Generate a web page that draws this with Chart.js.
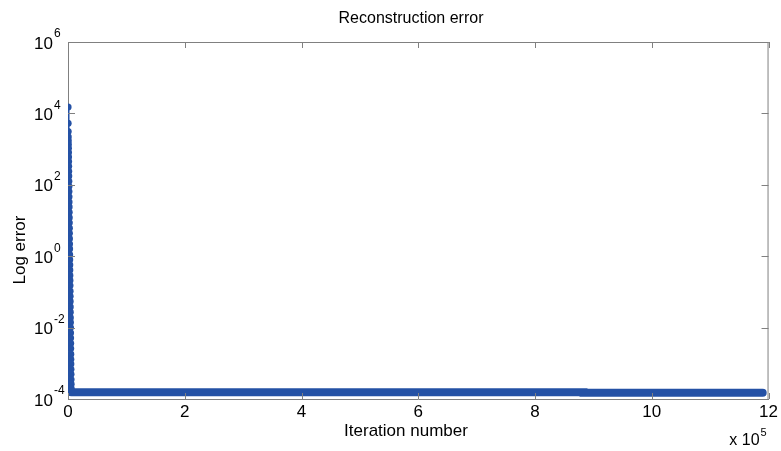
<!DOCTYPE html>
<html>
<head>
<meta charset="utf-8">
<script src="https://cdn.jsdelivr.net/npm/chart.js@4.4.0/dist/chart.umd.min.js"></script>
<style>
  body { margin: 0; background: #fff; }
  #wrap { width: 781px; height: 451px; }
</style>
</head>
<body>
<div id="wrap"><canvas id="errGraph"></canvas></div>
<script>
// first iterations: the error drops fast from the start value
var spikeX = [0, 100, 200, 300, 400, 500, 600, 700, 800, 900, 1000, 1100, 1200, 1300, 1400, 1500,
    1600, 1700, 1800, 1900, 2000, 2100, 2200, 2300, 2400, 2500, 2600, 2700, 2800, 2900, 3000,
    3100, 3200, 3300, 3400, 3500, 3600, 3700, 3800, 3900, 4000, 4100, 4200, 4300, 4400, 4500,
    4600, 4700, 4800, 4900, 5000, 5100, 5200, 5300, 5400, 5500, 5600];
var spikeY = [15000, 5300, 3100, 2200, 1700, 1350, 1050, 800, 600, 450, 330, 240, 175, 125, 90, 65,
    46, 33, 24, 17, 12, 8.6, 6.1, 4.4, 3.1, 2.2, 1.6, 1.1, 0.8, 0.57, 0.41, 0.29, 0.21, 0.15, 0.105,
    0.075, 0.054, 0.038, 0.027, 0.019, 0.014, 0.01, 0.0071, 0.0051, 0.0036, 0.0026, 0.0018, 0.0013,
    0.00095, 0.00068, 0.00049, 0.00035, 0.00026, 0.0002, 0.00017, 0.000158, 0.000155];

// the long flat tail
var tailX = [5600, 883000, 883000, 1190000];
var tailY = [0.000155, 0.000155, 0.00015, 0.00015];

var xTicks = [0, 200000, 400000, 600000, 800000, 1000000, 1200000];
var yExps = [-4, -2, 0, 2, 4, 6];

var blue = '#2451a5';
var axisGrey = '#808080';
var fontName = '"Liberation Sans", Arial, sans-serif';

function toPts(xs, ys) {
    var pts = [];
    for (var i = 0; i < xs.length; i++) pts.push({x: xs[i], y: ys[i]});
    return pts;
}

var matlabAxes = {
    id: 'matlabAxes',
    afterDraw: function(chart) {
        var c = chart.ctx, a = chart.chartArea;
        var xs = chart.scales.x, ys = chart.scales.y;
        c.save();
        c.strokeStyle = axisGrey;
        c.lineWidth = 1;
        c.beginPath();
        c.moveTo(a.left, a.top + 0.5); c.lineTo(a.right, a.top + 0.5);
        c.moveTo(a.right - 0.5, a.top); c.lineTo(a.right - 0.5, a.bottom);
        xTicks.forEach(function(v) {
            var px = Math.round(xs.getPixelForValue(v)) + 0.5;
            c.moveTo(px, a.bottom); c.lineTo(px, a.bottom - 6);
            c.moveTo(px, a.top); c.lineTo(px, a.top + 6);
        });
        yExps.forEach(function(e) {
            var py = Math.round(ys.getPixelForValue(Math.pow(10, e))) + 0.5;
            c.moveTo(a.left, py); c.lineTo(a.left + 7, py);
            c.moveTo(a.right, py); c.lineTo(a.right - 7, py);
        });
        c.stroke();

        c.fillStyle = '#000';
        c.textBaseline = 'middle';
        // title
        c.font = '16px ' + fontName;
        c.textAlign = 'center';
        c.fillText('Reconstruction error', 411, 19);

        // axis labels
        c.font = '17px ' + fontName;
        c.fillText('Iteration number', 406, 431);
        c.save();
        c.translate(20, 250);
        c.rotate(-Math.PI / 2);
        c.fillText('Log error', 0, 0);
        c.restore();

        // y tick labels with superscript exponent
        yExps.forEach(function(e) {
            var py = ys.getPixelForValue(Math.pow(10, e));
            c.font = '17px ' + fontName;
            c.textAlign = 'right';
            c.fillText('10', a.left - 15, py + 2);
            c.font = '12px ' + fontName;
            c.textAlign = 'left';
            c.fillText(String(e), a.left - 14, py - 8);
        });

        // x multiplier
        c.font = '16px ' + fontName;
        c.textAlign = 'right';
        c.fillText('x 10', a.right - 9, 441);
        c.font = '11px ' + fontName;
        c.textAlign = 'left';
        c.fillText('5', a.right - 8, 433);
        c.restore();
    }
};

var ctx = document.getElementById('errGraph').getContext('2d');
var graph = new Chart(ctx, {
    type: 'scatter',
    data: {
        datasets: [
            {
                label: 'tail',
                data: toPts(tailX, tailY),
                showLine: true,
                borderColor: blue,
                borderWidth: 8,
                borderCapStyle: 'round',
                pointRadius: 0
            },
            {
                label: 'start',
                data: toPts(spikeX, spikeY),
                showLine: true,
                borderColor: blue,
                borderWidth: 2,
                pointRadius: 3.6,
                pointBorderWidth: 0,
                pointBackgroundColor: blue
            }
        ]
    },
    plugins: [matlabAxes],
    options: {
        responsive: true,
        maintainAspectRatio: false,
        animation: false,
        layout: { padding: { left: 0, right: 11, top: 42, bottom: 0 } },
        scales: {
            x: {
                type: 'linear',
                min: 0,
                max: 1200000,
                afterBuildTicks: function(s) {
                    s.ticks = xTicks.map(function(v) { return {value: v}; });
                },
                afterFit: function(s) { s.height = 52; },
                ticks: {
                    autoSkip: false,
                    maxRotation: 0,
                    padding: 3,
                    color: '#000',
                    font: { family: fontName, size: 17 },
                    callback: function(v) { return v / 100000; }
                },
                grid: { display: false, drawTicks: false },
                border: { color: axisGrey }
            },
            y: {
                type: 'logarithmic',
                min: 0.0001,
                max: 1000000,
                afterFit: function(s) { s.width = 68; },
                ticks: { display: false },
                grid: { display: false, drawTicks: false },
                border: { color: axisGrey }
            }
        },
        plugins: {
            legend: { display: false },
            tooltip: { enabled: false },
            title: { display: false }
        }
    }
});
</script>
</body>
</html>
